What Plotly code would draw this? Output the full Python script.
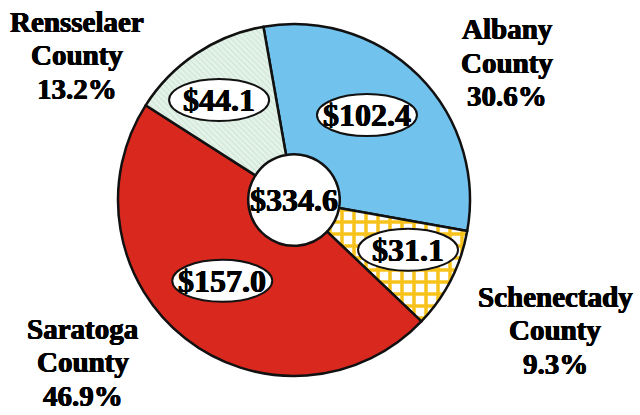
import math
import plotly.graph_objects as go

# ---- data ----
counties = ["Albany", "Schenectady", "Saratoga", "Rensselaer"]
values = [102.4, 31.1, 157.0, 44.1]

# ---- styles / layout (kept separate from data) ----
W, H = 640, 415
CX, CY, R = 294, 200, 176          # pie centre and radius in pixels
HOLE = 0.26
ROTATION = -10                      # degrees, first slice start
slice_colors = ["#72c2ee", "#ffffff", "#d9291f", "#e4f2e8"]
pattern_shapes = ["", "+", "", "\\"]
pattern_fg = ["#72c2ee", "#f8c21c", "#d9291f", "#cfe7d7"]
pattern_bg = ["#72c2ee", "#ffffff", "#d9291f", "#e6f3ea"]
pattern_size = [8, 12, 8, 4]
pattern_solidity = [0.3, 0.5, 0.3, 0.35]
value_label_r = [0.636, 0.707, 0.614, 0.71]   # radial fraction for value bubbles
value_label_dang = [-4.4, -3.3, 3.5, -3.1]    # angular nudge (deg) from slice middle
outer_label_px = [(507, 63), (555, 330), (83, 362), (77, 55)]  # block centres
LINE_GAP = 33.5
FONT = "Liberation Serif"

total = sum(values)
pcts = [v / total * 100 for v in values]

fig = go.Figure()
fig.add_trace(go.Pie(
    labels=counties,
    values=values,
    sort=False,
    direction="clockwise",
    rotation=ROTATION,
    hole=HOLE,
    textinfo="none",
    hoverinfo="label+value+percent",
    showlegend=False,
    marker=dict(
        colors=slice_colors,
        line=dict(color="#111111", width=2.5),
        pattern=dict(
            shape=pattern_shapes,
            fgcolor=pattern_fg,
            bgcolor=pattern_bg,
            size=pattern_size,
            solidity=pattern_solidity,
            fillmode="replace",
        ),
    ),
    domain=dict(x=[(CX - R) / W, (CX + R) / W],
                y=[(H - CY - R) / H, (H - CY + R) / H]),
))

shapes = []
annotations = []
bold = dict(family=FONT, color="#000000", weight="bold",
            shadow="0.6px 0px 0px #000, -0.5px 0px 0px #000, 0px 0.3px 0px #000")

# value bubbles, placed near the mid-angle of each slice
start = ROTATION
for name, v, rf, da in zip(counties, values, value_label_r, value_label_dang):
    span = v / total * 360
    mid = math.radians(start + span / 2 + da)
    start += span
    px = CX + rf * R * math.sin(mid)
    py = CY - rf * R * math.cos(mid)
    txt = f"${v:.1f}"
    ew = 100
    eh = 42
    shapes.append(dict(
        type="circle", xref="paper", yref="paper", layer="above",
        x0=(px - ew / 2) / W, x1=(px + ew / 2) / W,
        y0=1 - (py + eh / 2) / H, y1=1 - (py - eh / 2) / H,
        fillcolor="white", line=dict(color="#111111", width=2),
    ))
    annotations.append(dict(
        x=px / W, y=1 - py / H, xref="paper", yref="paper",
        text=txt, showarrow=False, xanchor="center", yanchor="middle",
        font=dict(size=32, **bold),
    ))

# total in the centre
annotations.append(dict(
    x=CX / W, y=1 - CY / H, xref="paper", yref="paper",
    text=f"${total:.1f}", showarrow=False, xanchor="center", yanchor="middle",
    font=dict(size=32, **bold),
))

# outer category labels, one annotation per line
for name, p, (lx, ly) in zip(counties, pcts, outer_label_px):
    lines = [name, "County", f"{p:.1f}%"]
    for i, line in enumerate(lines):
        yy = ly + (i - 1) * LINE_GAP
        annotations.append(dict(
            x=lx / W, y=1 - yy / H, xref="paper", yref="paper",
            text=line, showarrow=False,
            xanchor="center", yanchor="middle", align="center",
            font=dict(size=29, **bold),
        ))

fig.update_layout(
    width=W, height=H,
    margin=dict(l=0, r=0, t=0, b=0),
    paper_bgcolor="white", plot_bgcolor="white",
    shapes=shapes, annotations=annotations,
)

fig.write_html("out.html",
               config={"displayModeBar": False},
               post_script="document.body.style.margin='0px';"
                           "document.documentElement.style.margin='0px';")
